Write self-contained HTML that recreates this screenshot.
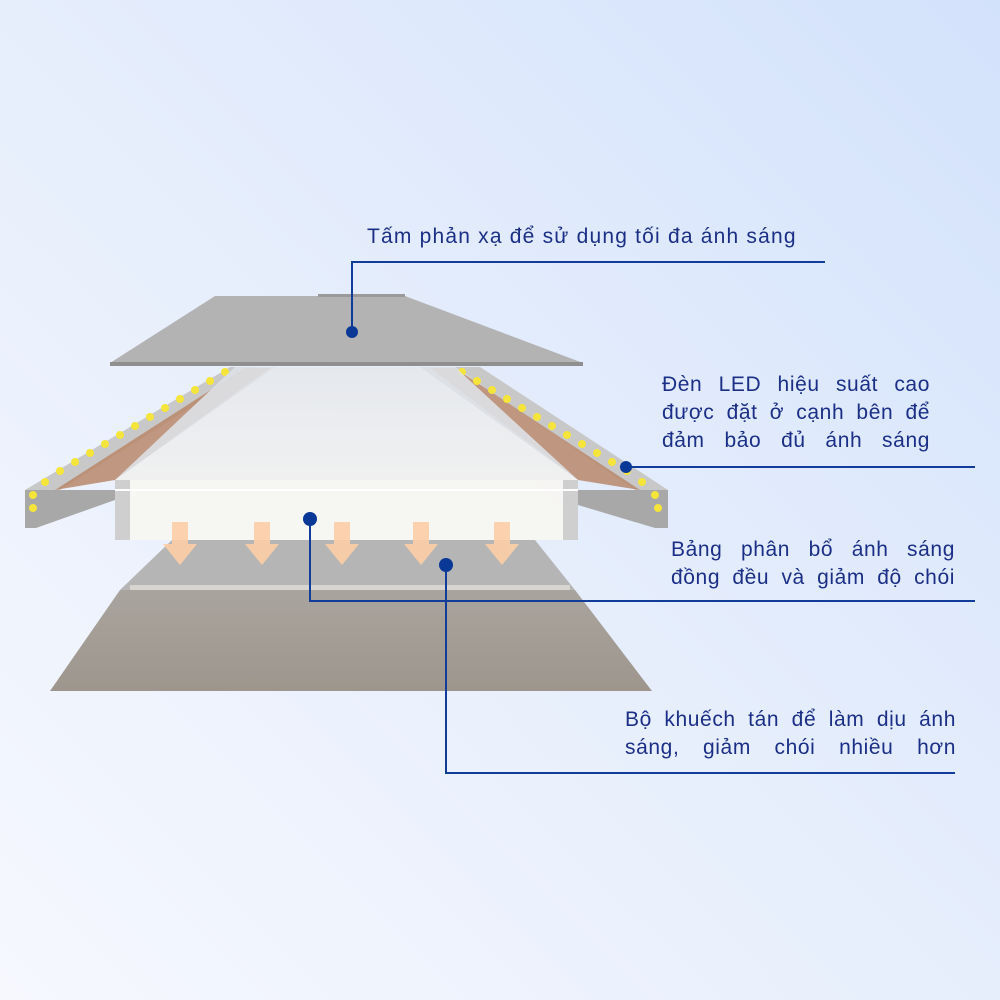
<!DOCTYPE html>
<html><head><meta charset="utf-8"><style>
html,body{margin:0;padding:0;width:1000px;height:1000px;overflow:hidden;position:relative}
.t{position:absolute;font-family:'Liberation Sans',sans-serif;font-size:21px;letter-spacing:0.6px;color:#1b2f86;line-height:28px}
.t div{height:28px;text-align:justify;text-align-last:justify;white-space:nowrap}
.t .j{white-space:normal}
</style></head><body>
<svg width="1000" height="1000" viewBox="0 0 1000 1000" xmlns="http://www.w3.org/2000/svg" style="position:absolute;left:0;top:0">
<defs>
<linearGradient id="bg" x1="0" y1="1" x2="1" y2="0">
<stop offset="0" stop-color="#f6f8fe"/><stop offset="0.5" stop-color="#e6eefc"/><stop offset="1" stop-color="#d3e2fb"/>
</linearGradient>
<linearGradient id="lgp" x1="0" y1="0" x2="0" y2="1">
<stop offset="0" stop-color="#e6e9ee"/><stop offset="1" stop-color="#f2f2f2"/>
</linearGradient>
<linearGradient id="dif" x1="0" y1="0" x2="0" y2="1">
<stop offset="0" stop-color="#a9a49e"/><stop offset="1" stop-color="#9e968d"/>
</linearGradient>
</defs>
<rect width="1000" height="1000" fill="url(#bg)"/>

<polygon points="120,590 575,590 652,691 50,691" fill="url(#dif)"/>
<polygon points="172,540 535,540 575,590 120,590" fill="#b5b5b5"/>
<rect x="130" y="585" width="440" height="5" fill="#d8d4cf"/>

<polygon points="230,367 255,367 60,490 25,490" fill="#c8c8c8"/>
<polygon points="25,490 60,490 115,490 115,500 36,528 25,528" fill="#a8a8a8"/>
<polygon points="245,368 270,368 115,480 55,490" fill="#b9876a" opacity="0.85"/>
<g fill="#f5e53a">
<circle cx="225" cy="372" r="4"/><circle cx="210" cy="381" r="4"/><circle cx="195" cy="390" r="4"/><circle cx="180" cy="399" r="4"/><circle cx="165" cy="408" r="4"/><circle cx="150" cy="417" r="4"/><circle cx="135" cy="426" r="4"/><circle cx="120" cy="435" r="4"/><circle cx="105" cy="444" r="4"/><circle cx="90" cy="453" r="4"/><circle cx="75" cy="462" r="4"/><circle cx="60" cy="471" r="4"/><circle cx="45" cy="482" r="4"/><circle cx="33" cy="495" r="4"/><circle cx="33" cy="508" r="4"/>
</g>
<polygon points="455,367 480,367 668,490 635,490" fill="#c8c8c8"/>
<polygon points="578,490 668,490 668,528 655,528 578,505" fill="#a8a8a8"/>
<polygon points="430,368 455,368 640,490 578,480" fill="#b9876a" opacity="0.85"/>
<g fill="#f5e53a">
<circle cx="462" cy="372" r="4"/><circle cx="477" cy="381" r="4"/><circle cx="492" cy="390" r="4"/><circle cx="507" cy="399" r="4"/><circle cx="522" cy="408" r="4"/><circle cx="537" cy="417" r="4"/><circle cx="552" cy="426" r="4"/><circle cx="567" cy="435" r="4"/><circle cx="582" cy="444" r="4"/><circle cx="597" cy="453" r="4"/><circle cx="612" cy="462" r="4"/><circle cx="627" cy="471" r="4"/><circle cx="642" cy="482" r="4"/><circle cx="655" cy="495" r="4"/><circle cx="658" cy="508" r="4"/>
</g>

<polygon points="235,367 455,367 578,480 115,480" fill="#dcdfe4" opacity="0.92"/>
<polygon points="275,367 420,367 578,480 115,480" fill="url(#lgp)" opacity="0.9"/>
<rect x="115" y="480" width="463" height="60" fill="#f7f5f2" opacity="0.95"/>
<rect x="115" y="480" width="15" height="60" fill="#cfcfcf"/>
<rect x="563" y="480" width="15" height="60" fill="#cfcfcf"/>
<line x1="115" y1="490" x2="578" y2="490" stroke="#ffffff" stroke-width="2"/>

<g fill="#fccfa6" opacity="0.9">
<path d="M172,522 h16 v22 h9 l-17,21 l-17,-21 h9z"/>
<path d="M254,522 h16 v22 h9 l-17,21 l-17,-21 h9z"/>
<path d="M334,522 h16 v22 h9 l-17,21 l-17,-21 h9z"/>
<path d="M413,522 h16 v22 h9 l-17,21 l-17,-21 h9z"/>
<path d="M494,522 h16 v22 h9 l-17,21 l-17,-21 h9z"/>
</g>

<polygon points="215,296 405,296 583,363 110,363" fill="#b3b3b3"/>
<rect x="318" y="294" width="87" height="3" fill="#9a9a9a"/>
<rect x="110" y="362" width="473" height="4" fill="#8f8f8f"/>

<g stroke="#123c99" stroke-width="2" fill="none">
<polyline points="352,332 352,262 825,262"/>
<line x1="625" y1="467" x2="975" y2="467"/>
<polyline points="310,519 310,601 975,601"/>
<polyline points="446,565 446,773 955,773"/>
</g>
<g fill="#0a3896">
<circle cx="352" cy="332" r="6"/><circle cx="626" cy="467" r="6"/><circle cx="310" cy="519" r="7"/><circle cx="446" cy="565" r="7"/>
</g>
</svg>
<div class="t" style="left:367px;top:223px;width:460px;letter-spacing:1.2px"><div style="text-align:left;text-align-last:left">Tấm phản xạ để sử dụng tối đa ánh sáng</div></div>
<div class="t" style="left:662px;top:371px;width:268px"><div class="j">Đèn LED hiệu suất cao</div><div class="j">được đặt ở cạnh bên để</div><div class="j">đảm bảo đủ ánh sáng</div></div>
<div class="t" style="left:671px;top:536px;width:284px"><div class="j">Bảng phân bổ ánh sáng</div><div class="j">đồng đều và giảm độ chói</div></div>
<div class="t" style="left:625px;top:706px;width:331px"><div class="j">Bộ khuếch tán để làm dịu ánh</div><div class="j">sáng, giảm chói nhiều hơn</div></div>
</body></html>
